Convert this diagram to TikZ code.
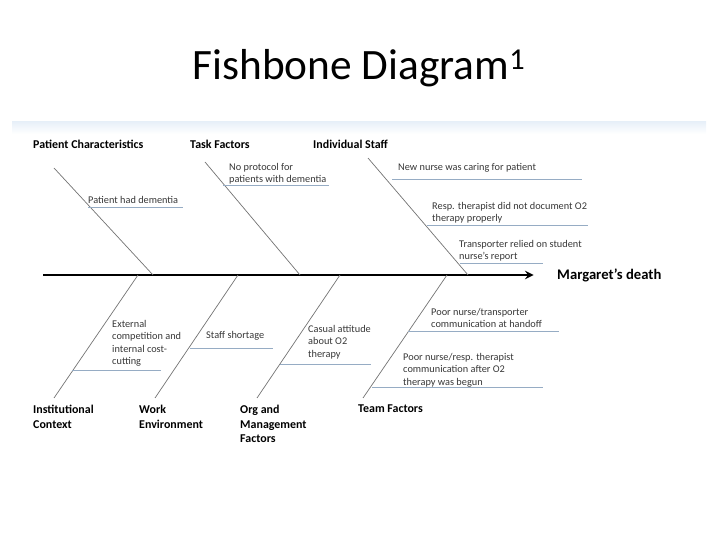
\documentclass[tikz,border=0pt]{standalone}
\usepackage{fontspec}
\setmainfont{Carlito}
\usetikzlibrary{positioning,arrows}
\definecolor{bonegray}{RGB}{115,115,115}
\definecolor{twigblue}{RGB}{150,172,196}
\definecolor{bandblue}{RGB}{232,240,249}
\definecolor{txtgray}{RGB}{55,55,55}
\tikzset{
  cattxt/.style={anchor=north west, inner sep=0pt, align=left,
                 font=\fontsize{10.2}{12.4}\selectfont\bfseries},
  causetxt/.style={anchor=north west, inner sep=0pt, align=left, text=txtgray,
                   font=\fontsize{8.8}{10.6}\selectfont},
  spineln/.style={->, >=stealth, line width=2.2pt, shorten >=20pt},
  boneln/.style={draw=bonegray, line width=0.6pt},
  twigln/.style={draw=twigblue, line width=0.8pt},
}
\newcommand{\bone}[5]{\coordinate (#1s) at (#2,#3); \coordinate (#1e) at (#4,#5);
  \draw[boneln] (#1s) -- (#1e);}
\newcommand{\twig}[4]{\coordinate (#1l) at (#2,#4); \coordinate (#1r) at (#3,#4);
  \draw[twigln] (#1l) -- (#1r);}
\newcommand{\SPY}{275}
\newcommand{\TOPY}{168}
\newcommand{\BOTY}{398}

\begin{document}
\begin{tikzpicture}[x=0.03cm, y=-0.03cm]
    \useasboundingbox (0,0) rectangle (720,540);
    
      \shade[top color=bandblue, bottom color=white] (12,122) rectangle (706,134);
      \node[anchor=base, inner sep=0pt, font=\fontsize{37}{42}\selectfont] (title) at (359,80)
        {Fishbone Diagram\textsuperscript{1}};
    
      \coordinate (tail) at (43,\SPY);
      \node[anchor=west, inner sep=0pt, font=\fontsize{12.5}{15}\selectfont\bfseries] (death)
        at (557,\SPY) {Margaret’s death};
      \draw[spineln] (tail) -- (death.west);
    
      \bone{pc}{54}{\TOPY}{153}{\SPY}
      \bone{tf}{205}{162}{300}{\SPY}
      \bone{is}{368}{158}{468}{\SPY}
      \bone{ic}{54}{\BOTY}{138}{\SPY}
      \bone{we}{155}{\BOTY}{238}{\SPY}
      \bone{om}{257}{\BOTY}{340}{\SPY}
      \bone{tm}{363}{\BOTY}{447}{\SPY}
    
      \twig{dem}{88}{183}{207}
      \twig{pro}{223}{329}{185}
      \twig{nn}{392}{582}{179}
      \twig{rt}{427}{588}{225}
      \twig{tr}{460}{543}{263}
      \twig{ext}{72}{161}{370}
      \twig{sho}{190}{273}{348}
      \twig{cas}{280}{371}{364}
      \twig{hnd}{408}{559}{331}
      \twig{oxy}{372}{543}{387}
    
      \node[cattxt] (pchar) at (33,140) {Patient Characteristics};
      \node[cattxt] (task) at (190,140) {Task Factors};
      \node[cattxt] (staff) at (313,140) {Individual Staff};
      \node[cattxt] (inst) at (33,405) {Institutional\\Context};
      \node[cattxt] (work) at (139,405) {Work\\Environment};
      \node[cattxt] (org) at (240,405) {Org and\\Management\\Factors};
      \node[cattxt] (team) at (358,405) {Team Factors};
    
      \node[causetxt] (dementia) at (88,196) {Patient had dementia};
      \node[causetxt] (noproto) at (229,163) {No protocol for\\patients with dementia};
      \node[causetxt] (newnurse) at (398,163) {New nurse was caring for patient};
      \node[causetxt] (resp) at (432,202) {Resp. therapist did not document O2\\therapy properly};
      \node[causetxt] (transp) at (459,240) {Transporter relied on student\\nurse’s report};
      \node[causetxt] (extcomp) at (112,320) {External\\competition and\\internal cost-\\cutting};
      \node[causetxt] (shortage) at (206,331) {Staff shortage};
      \node[causetxt] (casual) at (308,325) {Casual attitude\\about O2\\therapy};
      \node[causetxt] (handoff) at (431,308) {Poor nurse/transporter\\communication at handoff};
      \node[causetxt] (oxygen) at (403,353) {Poor nurse/resp. therapist\\communication after O2\\therapy was begun};
    
    \end{tikzpicture}
\end{document}
